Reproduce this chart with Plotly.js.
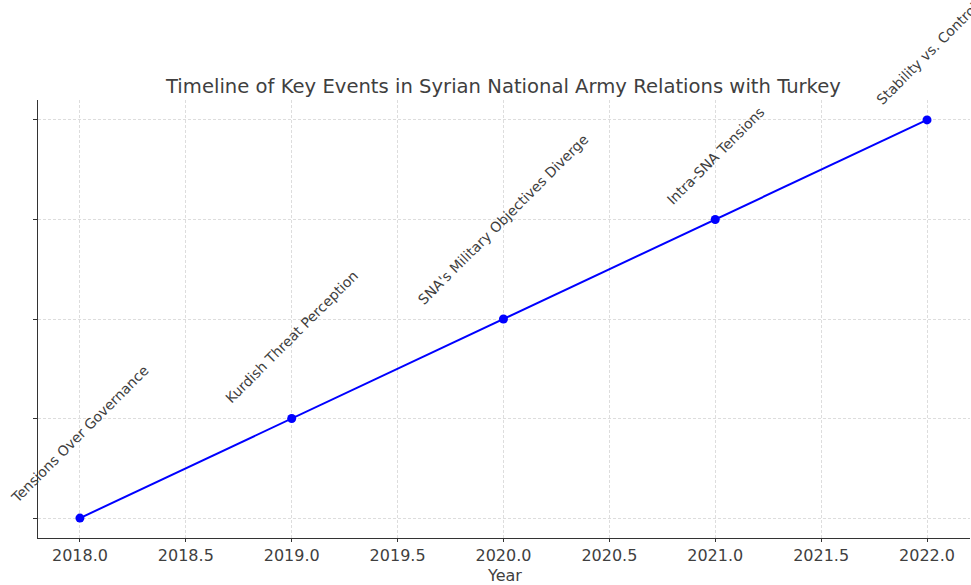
<!DOCTYPE html>
<html>
<head>
<meta charset="utf-8">
<script src="https://cdn.plot.ly/plotly-3.0.1.min.js"></script>
<style>html,body{margin:0;padding:0;background:#fff;}#chart{width:971px;height:585px;}</style>
</head>
<body>
<div id="chart"></div>
<script>
const years = [2018, 2019, 2020, 2021, 2022];
const levels = [0, 1, 2, 3, 4];
const events = [
  "Tensions Over Governance",
  "Kurdish Threat Perception",
  "SNA's Military Objectives Diverge",
  "Intra-SNA Tensions",
  "Stability vs. Control"
];
const xTickVals = [2018.0, 2018.5, 2019.0, 2019.5, 2020.0, 2020.5, 2021.0, 2021.5, 2022.0];
const xLabel = "Year";

const font = "DejaVu Sans, sans-serif";
const textColor = "#3f3f3f";

const trace = {
  x: years,
  y: levels,
  mode: "lines+markers",
  line: {color: "#0000ff", width: 2},
  marker: {color: "#0000ff", size: 9},
  hoverinfo: "skip"
};

const annotations = years.map((yr, i) => ({
  x: yr, y: levels[i], xref: "x", yref: "y",
  text: events[i], showarrow: false,
  textangle: -45, xanchor: "center", yanchor: "bottom",
  yshift: 9,
  font: {family: font, size: 14, color: textColor}
}));
annotations.push({
  x: 0.5, y: -37/438, xref: "paper", yref: "paper",
  text: xLabel, showarrow: false, xanchor: "center", yanchor: "middle",
  font: {family: font, size: 16, color: textColor}
});

const layout = {
  width: 971, height: 585,
  margin: {l: 38, r: 1, t: 100, b: 47},
  paper_bgcolor: "#fff", plot_bgcolor: "#fff",
  showlegend: false,
  title: {
    text: "Timeline of Key Events in Syrian National Army Relations with Turkey",
    font: {family: font, size: 19.6, color: textColor},
    x: 0.5185, xanchor: "center", y: 1 - 86/585, yanchor: "middle"
  },
  xaxis: {
    range: [2017.802, 2022.203],
    tickvals: xTickVals, tickformat: ".1f",
    ticks: "outside", ticklen: 2.5, tickcolor: "#333", tickwidth: 1,
    tickfont: {family: font, size: 16, color: textColor},
    showline: true, linecolor: "#333", linewidth: 1.3, mirror: false,
    showgrid: true, gridcolor: "#d4d4d4", griddash: "3px,2px", gridwidth: 0.8,
    zeroline: false
  },
  yaxis: {
    range: [-0.2, 4.2],
    tickvals: levels, showticklabels: false,
    ticks: "outside", ticklen: 3.5, tickcolor: "#333", tickwidth: 1,
    showline: true, linecolor: "#333", linewidth: 1.3, mirror: false,
    showgrid: true, gridcolor: "#d4d4d4", griddash: "3px,2px", gridwidth: 0.8,
    zeroline: false
  },
  annotations: annotations
};

Plotly.newPlot("chart", [trace], layout, {displayModeBar: false, staticPlot: true});
</script>
</body>
</html>
